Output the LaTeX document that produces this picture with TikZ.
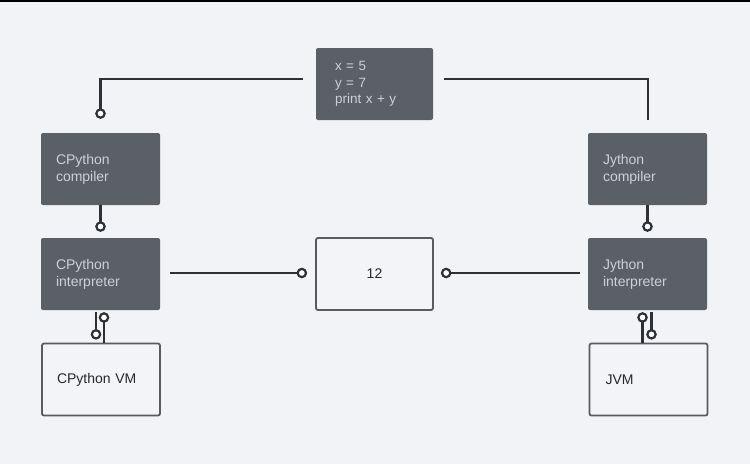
\documentclass[tikz,border=0pt]{standalone}
\usepackage{fontspec}
\setmainfont{Liberation Sans}
\usetikzlibrary{calc,arrows.meta}
\definecolor{bgc}{HTML}{F2F3F6}
\definecolor{darkbox}{HTML}{5A6066}
\definecolor{lighttxt}{HTML}{CDD1D6}
\definecolor{linec}{HTML}{2D3135}
\definecolor{outl}{HTML}{585C61}
\definecolor{outfill}{HTML}{F3F4F7}
\definecolor{darktxt}{HTML}{25282B}
\tikzset{
  darkbox/.style={rectangle, rounded corners=2pt, fill=darkbox, text=lighttxt,
    minimum width=119pt, minimum height=72pt, text width=89pt, align=left,
    inner xsep=15pt, font=\fontsize{14}{17}\selectfont},
  outbox/.style={rectangle, rounded corners=2pt, fill=outfill, draw=outl, line width=1.8pt,
    minimum width=118pt, minimum height=72pt, text=darktxt,
    font=\fontsize{14}{17}\selectfont},
  conn/.style={draw=linec, line width=2.6pt},
  circend/.style={-{Circle[fill=white,length=10.5pt,width=10.5pt,line width=2.2pt]}},
}
\begin{document}
\begin{tikzpicture}[x=1pt,y=-1pt]
\fill[bgc] (0,0) rectangle (750,464);
\useasboundingbox (0,0) rectangle (750,464);
\fill[black] (0,0) rectangle (750,1.6);

% nodes
\node[darkbox, minimum width=117pt, text width=79pt, inner xsep=19pt, font=\fontsize{13.5}{16.5}\selectfont] (code) at (374.5,84) {\raisebox{3pt}{\parbox{79pt}{x = 5\\y = 7\\print x + y}}};
\node[darkbox] (cc) at (100.5,169) {CPython\\compiler};
\node[darkbox] (ci) at (100.5,274) {CPython\\interpreter};
\node[outbox, text width=88pt, align=left, inner xsep=15pt] (cvm) at (101,379.5) {CPython VM};
\node[darkbox] (jc) at (647.5,169) {Jython\\compiler};
\node[darkbox] (ji) at (647.5,274) {Jython\\interpreter};
\node[outbox, text width=86pt, align=left, inner xsep=16pt] (jvm) at (648.5,379.5) {JVM};
\node[outbox, minimum width=117pt, minimum height=72pt] (r12) at (374.5,274) {12};

% helper coordinates
\coordinate (cdn) at ($(ci.south)+(-4.5,0)$);
\coordinate (cup) at ($(ci.south)+(3.5,0)$);
\coordinate (jdn) at ($(ji.south)+(4,0)$);
\coordinate (jup) at ($(ji.south)+(-5,0)$);

% connectors
\draw[conn, circend, shorten >=14pt] ($(code.west)+(-13,-5)$) -| (cc.north);
\draw[conn, shorten >=13pt] ($(code.east)+(11,-5)$) -| ($(jc.north)+(0.5,0)$);
\draw[conn, circend, shorten >=6pt] (cc.south) -- (ci.north);
\draw[conn, circend, shorten >=6pt] (jc.south) -- (ji.north);
\draw[conn, circend, shorten <=10pt, shorten >=8pt] ($(ci.east)+(0,-1)$) -- ($(r12.west)+(0,-1)$);
\draw[conn, circend, shorten <=8pt, shorten >=7pt] ($(ji.west)+(0,-1)$) -- ($(r12.east)+(0,-1)$);
\draw[conn, circend, shorten <=2pt, shorten >=3pt] (cdn) -- (cdn |- cvm.north);
\draw[conn, circend, shorten >=2pt] (cup |- cvm.north) -- (cup);
\draw[conn, circend, shorten <=2pt, shorten >=3pt] (jdn) -- (jdn |- jvm.north);
\draw[conn, circend, shorten >=2pt] (jup |- jvm.north) -- (jup);
\end{tikzpicture}
\end{document}
